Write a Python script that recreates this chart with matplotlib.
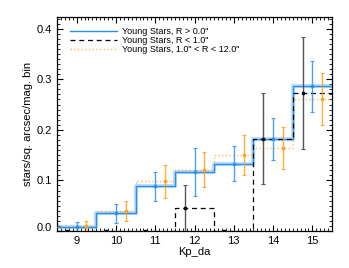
import numpy as np
import matplotlib
matplotlib.use("Agg")
import matplotlib.pyplot as plt
from matplotlib.ticker import MultipleLocator, FormatStrFormatter
import matplotlib.transforms as mtransforms

plt.rcParams['font.family'] = ['Liberation Sans', 'DejaVu Sans']

mags = [9, 10, 11, 12, 13, 14, 15]

all_vals = [0.008, 0.035, 0.088, 0.117, 0.133, 0.182, 0.286]
all_errs = [0.010, 0.019, 0.028, 0.047, 0.035, 0.041, 0.051]

inner_vals = [0.0, 0.0, 0.0, 0.045, 0.0, 0.182, 0.273]
inner_errs = [0.0, 0.0, 0.0, 0.046, 0.0, 0.090, 0.110]

outer_vals = [0.009, 0.040, 0.098, 0.121, 0.150, 0.164, 0.261]
outer_errs = [0.010, 0.020, 0.032, 0.035, 0.039, 0.041, 0.052]

labels = ['Young Stars, R > 0.0"', 'Young Stars, R < 1.0"', 'Young Stars, 1.0" < R < 12.0"']

blue = '#2a8ff0'
orange = '#ff9f1a'

fig = plt.figure(figsize=(3.49, 2.68), dpi=100)
ax = fig.add_axes([57/349, 1 - 231/268, 275/349, 214/268])

m = np.array(mags, dtype=float)
xs = np.concatenate([[m[0] - 0.5], m, [m[-1] + 0.5]])

def stepvals(v):
    v = np.asarray(v)
    return np.concatenate([[v[0]], v, [v[-1]]])

# blue step with light halo
ax.step(xs, stepvals(all_vals), where='mid', color=blue, lw=3.0, alpha=0.3, zorder=2)
ax.step(xs, stepvals(all_vals), where='mid', color=blue, lw=1.0, label=labels[0], zorder=3)
ax.step(xs, stepvals(inner_vals), where='mid', color='black', lw=0.9, ls=(0, (4, 3)), label=labels[1], zorder=4)
ax.step(xs, stepvals(outer_vals), where='mid', color=orange, lw=1.0, ls=':', alpha=0.7, label=labels[2], zorder=2)

ax.errorbar(m, all_vals, yerr=all_errs, fmt='s', color=blue, ms=2.0, ecolor=blue,
            elinewidth=1.0, capsize=1.5, capthick=0.8, alpha=0.85, zorder=5)
ax.errorbar(m + 0.25, outer_vals, yerr=outer_errs, fmt='s', color=orange, ms=2.0, ecolor=orange,
            elinewidth=1.0, capsize=1.5, capthick=0.8, alpha=0.85, zorder=5)
ax.errorbar(m - 0.25, inner_vals, yerr=inner_errs, fmt='s', color='black', ms=2.0, ecolor='#555555',
            elinewidth=1.0, capsize=1.5, capthick=0.8, zorder=5)

ax.set_xlim(8.5, 15.5)
ax.set_ylim(0.0, 0.423)
ax.xaxis.set_major_locator(MultipleLocator(1))
ax.xaxis.set_minor_locator(MultipleLocator(0.1))
ax.yaxis.set_major_locator(MultipleLocator(0.1))
ax.yaxis.set_minor_locator(MultipleLocator(0.01))
ax.yaxis.set_major_formatter(FormatStrFormatter('%.1f'))
ax.tick_params(which='both', direction='in', top=True, right=True, labelsize=8)
ax.tick_params(which='major', length=4, width=0.8)
ax.tick_params(which='minor', length=2, width=0.6)
for s in ax.spines.values():
    s.set_linewidth(0.9)

ax.set_xlabel('Kp_da', fontsize=8, labelpad=1)
ax.set_ylabel('stars/sq. arcsec/mag. bin', fontsize=8, labelpad=3)

ax.legend(loc='upper left', fontsize=6.5, frameon=False, handlelength=5.2, handletextpad=0.55,
          labelspacing=0.0, borderaxespad=0.0, bbox_to_anchor=(0.034, 0.968))

# shift the bottom "0.0" label up like the reference
fig.canvas.draw()
for t in ax.yaxis.get_major_ticks():
    if abs(t.get_loc()) < 1e-9:
        t.label1.set_transform(t.label1.get_transform() +
                               mtransforms.ScaledTranslation(0, 4/100, fig.dpi_scale_trans))

fig.savefig('out.png', dpi=100)
